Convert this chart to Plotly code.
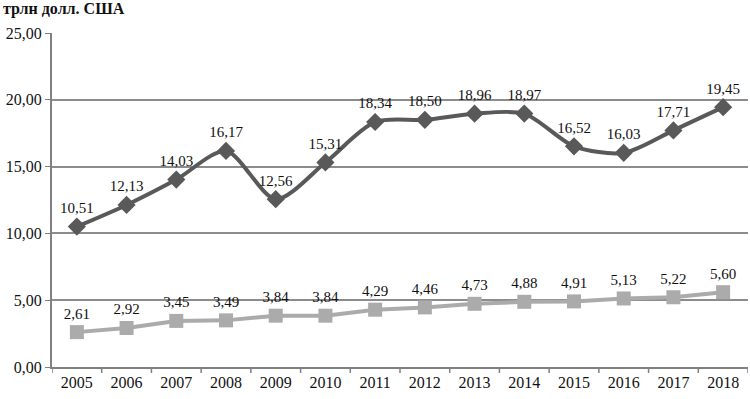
import plotly.graph_objects as go

years = ["2005","2006","2007","2008","2009","2010","2011","2012","2013","2014","2015","2016","2017","2018"]
series_dark = [10.51,12.13,14.03,16.17,12.56,15.31,18.34,18.50,18.96,18.97,16.52,16.03,17.71,19.45]
series_light = [2.61,2.92,3.45,3.49,3.84,3.84,4.29,4.46,4.73,4.88,4.91,5.13,5.22,5.60]
y_ticks = [0,5,10,15,20,25]
y_tick_labels = ["0,00","5,00","10,00","15,00","20,00","25,00"]

def fmt(v):
    return f"{v:.2f}".replace(".", ",")

serif = "Liberation Serif, Times New Roman, serif"
tick_font = dict(family=serif, size=16, color="#111111")
label_font = dict(family=serif, size=15, color="#111111")
x_idx = list(range(len(years)))

fig = go.Figure()
fig.add_trace(go.Scatter(
    x=x_idx, y=series_light, mode="lines+markers+text",
    line=dict(color="#ABABAB", width=4),
    marker=dict(symbol="square", size=14, color="#ABABAB"),
    text=[fmt(v) for v in series_light], textposition="top center",
    textfont=label_font, cliponaxis=False, showlegend=False))
fig.add_trace(go.Scatter(
    x=x_idx, y=series_dark, mode="lines+markers+text",
    line=dict(color="#595959", width=4, shape="spline", smoothing=0.8),
    marker=dict(symbol="diamond", size=14, color="#595959"),
    text=[fmt(v) for v in series_dark], textposition="top center",
    textfont=label_font, cliponaxis=False, showlegend=False))

fig.update_layout(
    width=750, height=399,
    margin=dict(l=52, r=2, t=33, b=32, autoexpand=False),
    paper_bgcolor="white", plot_bgcolor="white",
    font=tick_font,
    annotations=[dict(text="<b>трлн долл. США</b>", xref="paper", yref="paper",
                      x=0, y=1, xanchor="left", yanchor="bottom", xshift=-51, yshift=13,
                      showarrow=False, font=dict(family=serif, size=16, color="#111111"))],
)
fig.update_xaxes(
    range=[-0.5, len(years)-0.5], tickmode="array", tickvals=x_idx, ticktext=years,
    showgrid=False, showline=True, linecolor="#808080", linewidth=2,
    ticks="", zeroline=False, automargin=False, tickfont=tick_font)
for i in range(len(years)+1):
    fig.add_shape(type="line", xref="x", yref="paper", x0=i-0.5, x1=i-0.5, y0=0, y1=-0.018,
                  line=dict(color="#808080", width=1.5))
fig.update_yaxes(
    range=[0, 25], tickmode="array", tickvals=y_ticks, ticktext=y_tick_labels,
    showgrid=True, gridcolor="#8C8C8C", gridwidth=1.5,
    showline=True, linecolor="#808080", linewidth=2,
    ticks="outside", ticklen=5, tickcolor="#808080",
    zeroline=False, automargin=False, tickfont=tick_font)

fig.write_html("out.html", config={"displayModeBar": False},
               post_script="document.body.style.margin='0';document.body.style.overflow='hidden';")
